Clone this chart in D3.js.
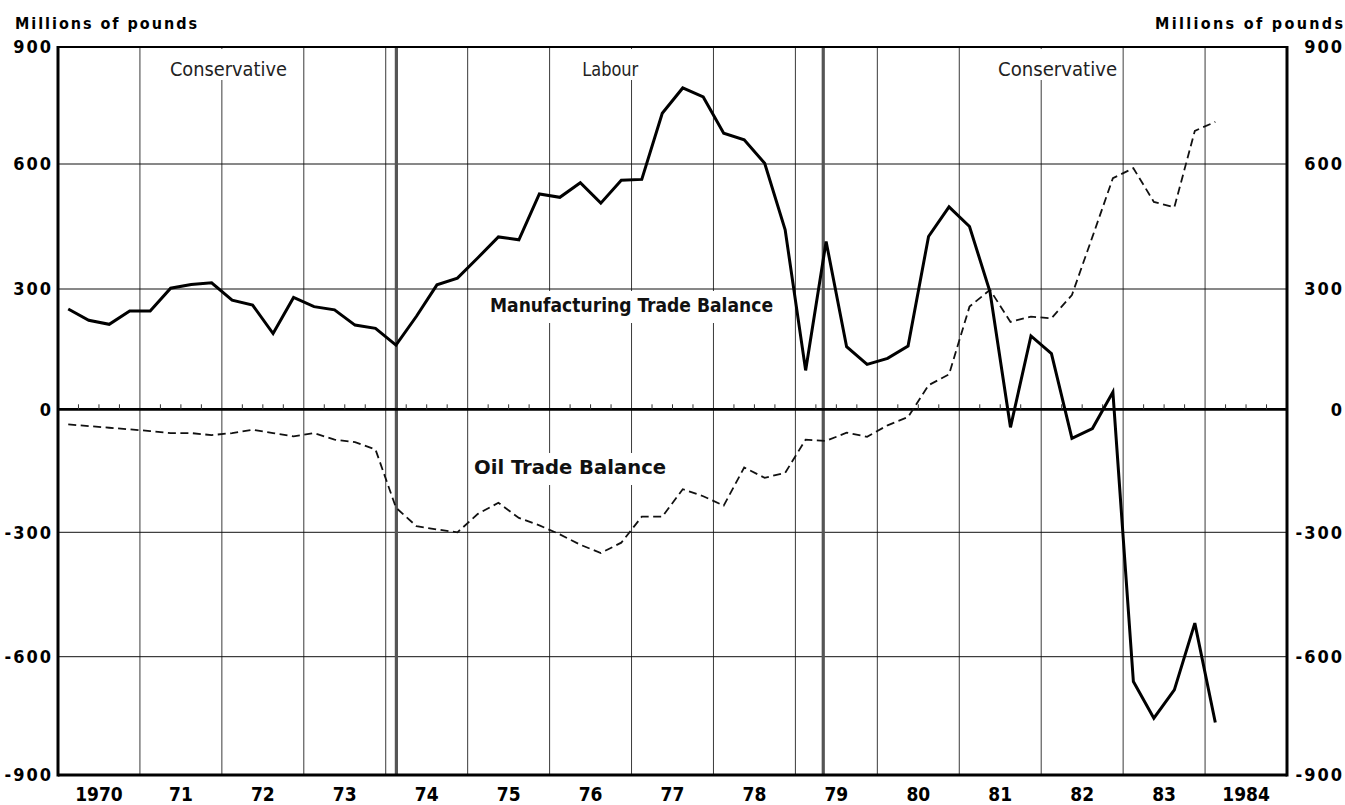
<!DOCTYPE html>
<html><head><meta charset="utf-8">
<script src="https://cdn.jsdelivr.net/npm/d3@7"></script>
<style>body{margin:0;background:#fff}svg{display:block}</style>
</head><body><svg id="c" width="1345" height="805"></svg>
<script>
// ---------------- DATA ----------------
const periods = [
 "1970Q1","1970Q2","1970Q3","1970Q4","1971Q1","1971Q2","1971Q3","1971Q4",
 "1972Q1","1972Q2","1972Q3","1972Q4","1973Q1","1973Q2","1973Q3","1973Q4",
 "1974Q1","1974Q2","1974Q3","1974Q4","1975Q1","1975Q2","1975Q3","1975Q4",
 "1976Q1","1976Q2","1976Q3","1976Q4","1977Q1","1977Q2","1977Q3","1977Q4",
 "1978Q1","1978Q2","1978Q3","1978Q4","1979Q1","1979Q2","1979Q3","1979Q4",
 "1980Q1","1980Q2","1980Q3","1980Q4","1981Q1","1981Q2","1981Q3","1981Q4",
 "1982Q1","1982Q2","1982Q3","1982Q4","1983Q1","1983Q2","1983Q3","1983Q4",
 "1984Q1"];
const manufacturing = [
 250,222,212,245, 245,302,311,315, 272,260,189,279, 256,248,210,202,
 160,232,310,326, 375,425,418,528, 520,555,506,561, 563,730,795,772,
 679,662,602,442, 97,414,156,112, 127,158,426,497, 450,293,-44,183,
 139,-71,-47,43, -663,-756,-684,-519, -767];
const oil = [
 -37,-41,-45,-49, -53,-58,-58,-63, -58,-50,-58,-66, -58,-74,-80,-98,
 -240,-285,-293,-300, -255,-228,-265,-283, -305,-330,-350,-325, -262,-262,-195,-212,
 -235,-142,-167,-155, -74,-77,-57,-67, -39,-19,60,87, 256,298,218,231,
 227,285,425,566, 590,509,496,685, 708];
const yearLabels = ["1970","71","72","73","74","75","76","77","78","79","80","81","82","83","1984"];
const yTicks = [-900,-600,-300,0,300,600,900];
const yTickLabels = ["-900","-600","-300","0","300","600","900"];
const elections = [1974.13, 1979.34];
const governments = ["Conservative","Labour","Conservative"];
const seriesLabels = ["Manufacturing Trade Balance","Oil Trade Balance"];
const unitLabel = "Millions of pounds";

// ---------------- LAYOUT ----------------
const svg = d3.select("#c");
const FONT = "'DejaVu Sans Condensed','Liberation Sans Narrow','DejaVu Sans',sans-serif";
const x = d3.scaleLinear().domain([1970, 1985]).range([58, 1287]);
const y = d3.scaleLinear().domain(yTicks).range([775, 656.7, 532.3, 409.3, 289, 164, 47]);
const yTop = y(900), yBot = y(-900), xL = x(1970), xR = x(1985);
const tOf = p => +p.slice(0,4) + (+p.slice(5) - 0.5) / 4;

// vertical year grid lines
const bounds = d3.range(1971, 1985);
svg.append("g").selectAll("line").data(bounds).join("line")
  .attr("x1", d => x(d)).attr("x2", d => x(d))
  .attr("y1", yTop).attr("y2", yBot)
  .attr("stroke", "#3a3a3a").attr("stroke-width", 1);

// horizontal grid lines
svg.append("g").selectAll("line").data(yTicks.filter(v => v !== 0 && Math.abs(v) !== 900)).join("line")
  .attr("x1", xL).attr("x2", xR)
  .attr("y1", d => y(d)).attr("y2", d => y(d))
  .attr("stroke", "#111").attr("stroke-width", 1);

// label backgrounds + labels
const govPos = [1972.08, 1976.74, 1982.2];
const govWidth = [117, 56, 119];
const gG = svg.append("g");
governments.forEach((g, i) => {
  const cx = x(govPos[i]);
  gG.append("rect").attr("x", cx - govWidth[i]/2 - 5).attr("y", 49)
    .attr("width", govWidth[i] + 10).attr("height", 31).attr("fill", "#fff");
  gG.append("text").attr("x", cx).attr("y", 76).attr("text-anchor", "middle")
    .attr("font-family", FONT).attr("font-size", 20).attr("fill", "#222")
    .attr("textLength", govWidth[i]).attr("lengthAdjust", "spacingAndGlyphs")
    .text(g);
});

// series labels (with white backgrounds)
const sPos = [[1977.0, 312, 283], [1976.25, 474, 192]];
seriesLabels.forEach((s, i) => {
  const cx = x(sPos[i][0]), by = sPos[i][1], w = sPos[i][2];
  gG.append("rect").attr("x", cx - w/2 - 5).attr("y", by - 21)
    .attr("width", w + 10).attr("height", 32).attr("fill", "#fff");
  gG.append("text").attr("x", cx).attr("y", by).attr("text-anchor", "middle")
    .attr("font-family", FONT).attr("font-weight", "bold").attr("font-size", 20).attr("fill", "#111")
    .attr("textLength", w).attr("lengthAdjust", "spacingAndGlyphs")
    .text(s);
});

// election lines
svg.append("g").selectAll("line").data(elections).join("line")
  .attr("x1", d => x(d)).attr("x2", d => x(d))
  .attr("y1", yTop).attr("y2", yBot)
  .attr("stroke", "#555").attr("stroke-width", 3.2);

// zero line with quarter ticks
svg.append("line").attr("x1", xL).attr("x2", xR).attr("y1", y(0)).attr("y2", y(0))
  .attr("stroke", "#000").attr("stroke-width", 2.8);
const qTicks = d3.range(1970.25, 1985, 0.25).filter(t => Math.abs(t - Math.round(t)) > 0.01);
svg.append("g").selectAll("line").data(qTicks).join("line")
  .attr("x1", d => x(d)).attr("x2", d => x(d))
  .attr("y1", y(0) - 5).attr("y2", y(0))
  .attr("stroke", "#333").attr("stroke-width", 1);

// frame
svg.append("line").attr("x1", xL).attr("x2", xR).attr("y1", yTop).attr("y2", yTop).attr("stroke", "#000").attr("stroke-width", 2);
svg.append("line").attr("x1", xL).attr("x2", xR).attr("y1", yBot).attr("y2", yBot).attr("stroke", "#000").attr("stroke-width", 3);
svg.append("line").attr("x1", xL).attr("x2", xL).attr("y1", yTop - 1).attr("y2", yBot + 1.5).attr("stroke", "#000").attr("stroke-width", 3);
svg.append("line").attr("x1", xR).attr("x2", xR).attr("y1", yTop - 1).attr("y2", yBot + 1.5).attr("stroke", "#000").attr("stroke-width", 3);

// series lines
const line = d3.line().x(d => x(d.t)).y(d => y(d.v));
const manuData = periods.map((p, i) => ({t: tOf(p), v: manufacturing[i]}));
const oilData = periods.map((p, i) => ({t: tOf(p), v: oil[i]}));
svg.append("path").datum(oilData).attr("d", line).attr("fill", "none")
  .attr("stroke", "#111").attr("stroke-width", 1.8).attr("stroke-dasharray", "8,4.5");
svg.append("path").datum(manuData).attr("d", line).attr("fill", "none")
  .attr("stroke", "#000").attr("stroke-width", 3).attr("stroke-linejoin", "miter");

// y tick labels both sides
const yl = svg.append("g").attr("font-family", FONT).attr("font-weight", "bold")
  .attr("font-size", 18).attr("fill", "#000").attr("letter-spacing", 2);
yTicks.forEach((v, i) => {
  yl.append("text").attr("x", 53).attr("y", y(v)).attr("dy", "0.36em")
    .attr("text-anchor", "end").text(yTickLabels[i]);
  yl.append("text").attr("x", 1344).attr("y", y(v)).attr("dy", "0.36em")
    .attr("text-anchor", "end").text(yTickLabels[i]);
});

// x year labels
svg.append("g").selectAll("text").data(yearLabels).join("text")
  .attr("x", (d, i) => x(1970 + i + 0.5)).attr("y", 801)
  .attr("text-anchor", "middle").attr("font-family", FONT).attr("font-weight", "bold")
  .attr("font-size", 19).attr("fill", "#000").text(d => d);

// unit labels
svg.append("text").attr("x", 15).attr("y", 29).attr("font-family", FONT).attr("font-weight", "bold")
  .attr("font-size", 16).attr("textLength", 182).attr("lengthAdjust", "spacing").text(unitLabel);
svg.append("text").attr("x", 1343).attr("y", 29).attr("text-anchor", "end").attr("font-family", FONT).attr("font-weight", "bold")
  .attr("font-size", 16).attr("textLength", 188).attr("lengthAdjust", "spacing").text(unitLabel);
</script></body></html>
